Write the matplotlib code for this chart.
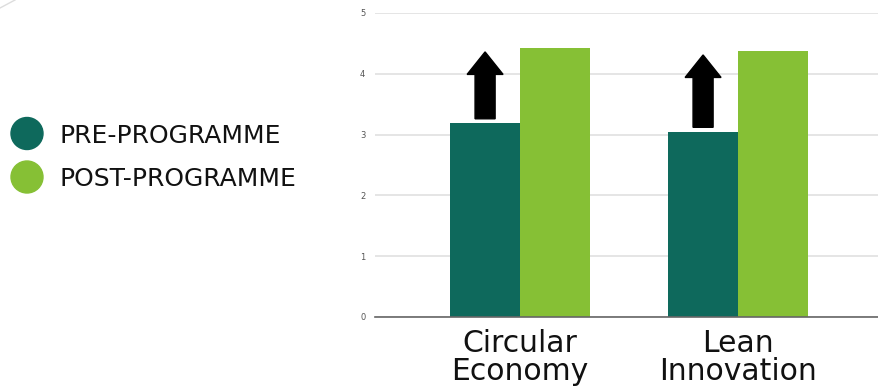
import matplotlib
matplotlib.use("Agg")
import matplotlib.pyplot as plt
from matplotlib.patches import FancyArrow, Ellipse
from matplotlib.lines import Line2D
import numpy as np

categories = ["Circular\nEconomy", "Lean\nInnovation"]
pre_values = [3.19, 3.05]
post_values = [4.42, 4.37]
series_names = ["PRE-PROGRAMME", "POST-PROGRAMME"]
y_ticks = [0, 1, 2, 3, 4, 5]

c_pre = "#0e695c"
c_post = "#86c035"

W, H = 879, 390
fig = plt.figure(figsize=(W / 100, H / 100), dpi=100)
ax = fig.add_axes([375 / W, 1 - 317 / H, (W - 375) / W, (317 - 13) / H])

x = np.arange(len(categories))
bw = 0.32
ax.bar(x - bw / 2, pre_values, bw, color=c_pre, zorder=3)
ax.bar(x + bw / 2, post_values, bw, color=c_post, zorder=3)

for xi, p, q in zip(x, pre_values, post_values):
    start = p + 0.07
    length = (q - 0.06) - start
    ax.add_patch(FancyArrow(xi - bw / 2, start, 0, length, width=0.092,
                            head_width=0.165, head_length=0.37,
                            length_includes_head=True, color="black", zorder=4))

ax.set_xlim(-0.665, 1.647)
ax.set_ylim(0, 5)
ax.set_yticks(y_ticks)
ax.set_yticklabels([str(t) for t in y_ticks], fontsize=6, color="#555555")
ax.grid(axis="y", color="#e0e0e0", linewidth=1.2, zorder=0)
ax.set_xticks(x)
ax.set_xticklabels(categories, fontsize=21.5, family="DejaVu Sans", linespacing=0.92,
                   color="#111111")
ax.tick_params(axis="x", length=0, pad=9)
ax.tick_params(axis="y", length=0, pad=7)
for s in ["top", "right", "left"]:
    ax.spines[s].set_visible(False)
ax.spines["bottom"].set_color("#666666")
ax.spines["bottom"].set_linewidth(1.2)
ax.spines["bottom"].set_zorder(5)

for yy, col, name in [(133.5, c_pre, series_names[0]), (177, c_post, series_names[1])]:
    fig.patches.append(Ellipse((27 / W, 1 - yy / H), 32 / W, 32 / H,
                               transform=fig.transFigure, color=col))
    fig.text(60 / W, 1 - yy / H, name, fontsize=18, family="DejaVu Sans",
             va="center_baseline", ha="left", color="#111111")

fig.add_artist(Line2D([0, 15 / W], [1 - 8 / H, 1.0], transform=fig.transFigure,
                      color="#dddddd", linewidth=1))

fig.savefig("out.png", dpi=100)
